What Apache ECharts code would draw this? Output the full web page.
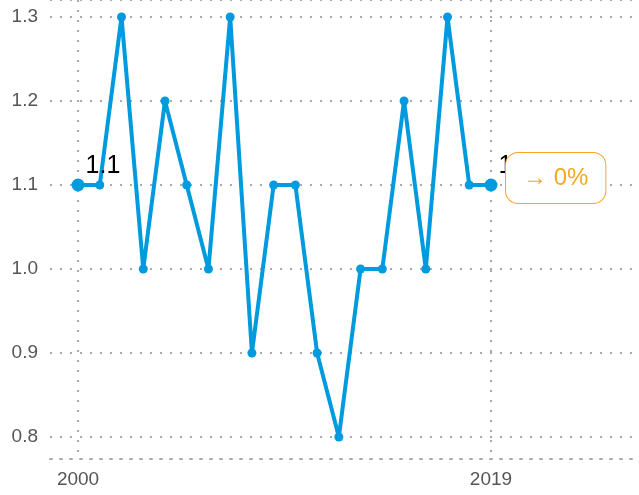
<!DOCTYPE html>
<html>
<head>
<meta charset="UTF-8">
<script src="https://cdn.jsdelivr.net/npm/echarts@6/dist/echarts.min.js"></script>
<style>
html, body { margin: 0; padding: 0; background: #fff; }
#main { width: 639px; height: 495px; }
</style>
</head>
<body>
<div id="main"></div>
<script>
var years = [2000, 2001, 2002, 2003, 2004, 2005, 2006, 2007, 2008, 2009,
             2010, 2011, 2012, 2013, 2014, 2015, 2016, 2017, 2018, 2019];
var values = [1.1, 1.1, 1.3, 1.0, 1.2, 1.1, 1.0, 1.3, 0.9, 1.1,
              1.1, 0.9, 0.8, 1.0, 1.0, 1.2, 1.0, 1.3, 1.1, 1.1];
var xTicks = [2000, 2019];
var changeText = '→ 0%';

var gridLine = { color: '#aaaaaa', width: 2, type: [2, 8] };
var last = years.length - 1;

var points = years.map(function (y, i) {
    var p = { value: [y, values[i]] };
    if (i === 0 || i === last) {
        p.symbolSize = 13;
        p.label = { show: true };
    }
    return p;
});

echarts.init(document.getElementById('main')).setOption({
    animation: false,
    grid: { left: 50, right: 0, top: 0, bottom: 36 },
    xAxis: {
        type: 'value',
        min: 1998.71,
        max: 2025.81,
        axisLine: { show: true, lineStyle: gridLine },
        axisTick: { show: false, customValues: xTicks },
        axisLabel: {
            customValues: xTicks,
            color: '#555',
            fontSize: 19,
            fontFamily: 'Liberation Sans',
            margin: 11,
            formatter: function (v) { return String(v); }
        },
        splitLine: { show: true, lineStyle: gridLine }
    },
    yAxis: {
        type: 'value',
        min: 0.7738,
        max: 1.3202,
        axisLine: { show: false },
        axisTick: { show: false },
        axisLabel: {
            showMinLabel: false,
            showMaxLabel: false,
            color: '#555',
            fontSize: 19,
            fontFamily: 'Liberation Sans',
            margin: 12,
            formatter: function (v) { return v.toFixed(1); }
        },
        splitLine: { show: true, lineStyle: gridLine }
    },
    series: [{
        type: 'line',
        data: points,
        symbol: 'circle',
        symbolSize: 9,
        itemStyle: { color: '#009ade' },
        lineStyle: { color: '#009ade', width: 4 },
        label: {
            show: false,
            position: [14, -25],
            color: '#000',
            fontSize: 25,
            fontFamily: 'Liberation Sans',
            formatter: function (p) { return p.value[1]; }
        },
        markPoint: {
            symbol: 'circle',
            symbolSize: 0,
            data: [{ coord: [years[last], values[last]] }],
            label: {
                show: true,
                position: [15, -32],
                formatter: changeText,
                color: '#f5a623',
                fontSize: 24,
                fontFamily: 'Liberation Sans',
                backgroundColor: '#fff',
                borderColor: '#f5a623',
                borderWidth: 1,
                borderRadius: 12,
                padding: [13, 17, 13, 17]
            }
        }
    }]
});
</script>
</body>
</html>
